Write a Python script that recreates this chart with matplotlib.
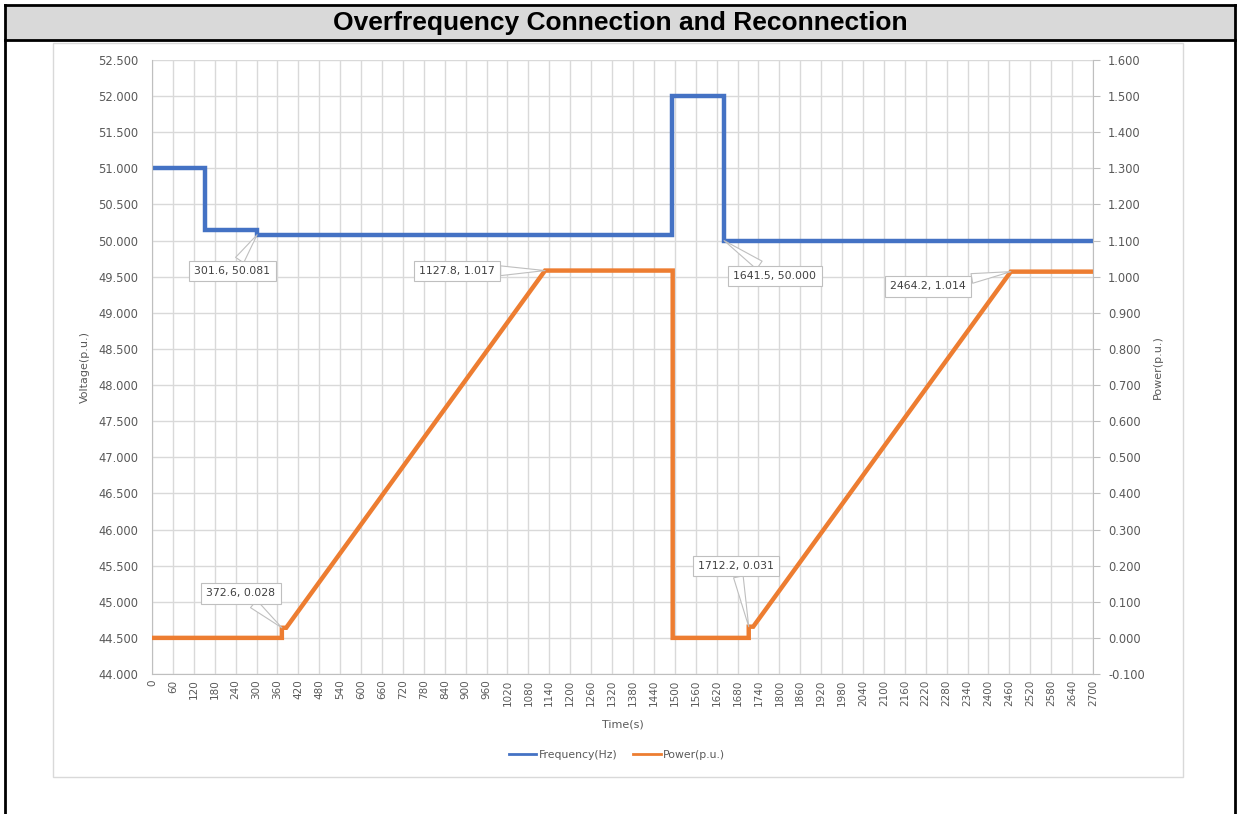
import matplotlib.pyplot as plt
from matplotlib.patches import Rectangle
from matplotlib.lines import Line2D

# frequency trace (Hz) and power trace (p.u.) against time (s)
t_freq = [0, 153, 153, 301.6, 301.6, 1493, 1493, 1641.5, 1641.5, 2700]
freq = [51.0, 51.0, 50.14, 50.14, 50.081, 50.081, 52.0, 52.0, 50.0, 50.0]

t_pow = [0, 372.6, 372.6, 385, 1127.8, 1494, 1494, 1712.2, 1712.2, 1725, 2464.2, 2700]
power = [0, 0, 0.028, 0.028, 1.017, 1.017, 0, 0, 0.031, 0.031, 1.014, 1.014]

# callouts: (x, y, text x, text y)
freq_marks = [(301.6, 50.081, 230, 49.58), (1641.5, 50.000, 1787, 49.51)]
pow_marks = [(1127.8, 1.017, 875, 1.016), (2464.2, 1.014, 2227, 0.974),
             (372.6, 0.028, 255, 0.124), (1712.2, 0.031, 1676, 0.199)]

W, H = 1239, 814
fig = plt.figure(figsize=(W / 100, H / 100), dpi=100)
plt.rcParams['font.family'] = ['DejaVu Sans']

def fx(px):
    return px / W

def fy(py):
    return 1 - py / H

# table frame with a grey title row
fig.patches.append(Rectangle((fx(5), fy(40)), fx(1230), 35 / H, transform=fig.transFigure,
                             facecolor='#d9d9d9', edgecolor='none', zorder=0))
for xs, ys in [([5, 1235], [5, 5]), ([5, 1235], [40, 40]), ([5, 5], [5, 814]), ([1235, 1235], [5, 814])]:
    fig.add_artist(Line2D([fx(v) for v in xs], [fy(v) for v in ys], color='black', lw=2))
fig.text(fx(620), fy(23), 'Overfrequency Connection and Reconnection', ha='center', va='center',
         fontsize=19, fontweight='bold', family='Liberation Sans')

# chart area border
fig.patches.append(Rectangle((fx(53), fy(777)), fx(1130), 734 / H, transform=fig.transFigure,
                             facecolor='none', edgecolor='#d9d9d9', lw=1))

ax = fig.add_axes([fx(152), fy(674), 941 / W, 614 / H])
ax2 = ax.twinx()

blue = '#4472c4'
orange = '#ed7d31'
grey = '#595959'

ax.plot(t_freq, freq, color=blue, lw=3.2, label='Frequency(Hz)', solid_joinstyle='miter')
ax2.plot(t_pow, power, color=orange, lw=3.2, label='Power(p.u.)', solid_joinstyle='miter')

ax.set_xlim(0, 2700)
ax.set_ylim(44, 52.5)
ax2.set_ylim(-0.1, 1.6)
ax.set_xticks(range(0, 2701, 60))
ax.set_yticks([44 + 0.5 * i for i in range(18)])
ax2.set_yticks([-0.1 + 0.1 * i for i in range(18)])
ax.set_yticklabels([f'{44 + 0.5 * i:.3f}' for i in range(18)])
ax2.set_yticklabels([f'{-0.1 + 0.1 * i:.3f}' for i in range(18)])
ax.tick_params(axis='x', labelrotation=90, labelsize=7.5, colors=grey, length=0, pad=4)
ax.tick_params(axis='y', labelsize=8.3, colors=grey, length=0, pad=10)
ax2.tick_params(axis='y', labelsize=8.3, colors=grey, length=5, color='#bfbfbf', pad=6)

ax.grid(True, color='#d9d9d9', lw=1)
ax.set_axisbelow(True)
for a in (ax, ax2):
    for s in a.spines.values():
        s.set_visible(False)
    a.set_facecolor('none')
ax.spines['bottom'].set_visible(True)
ax.spines['bottom'].set_color('#bfbfbf')
ax.spines['left'].set_visible(True)
ax.spines['left'].set_color('#bfbfbf')
ax2.spines['right'].set_visible(True)
ax2.spines['right'].set_color('#bfbfbf')

ax.set_ylabel('Voltage(p.u.)', fontsize=8, color=grey, labelpad=6)
ax2.set_ylabel('Power(p.u.)', fontsize=8, color=grey, labelpad=6)
ax.set_xlabel('Time(s)', fontsize=8, color=grey, labelpad=10)

box = dict(boxstyle='square,pad=0.5', fc='white', ec='#bfbfbf', lw=0.8)
arrow = dict(arrowstyle='wedge,tail_width=0.9,shrink_factor=0.5', fc='white', ec='#bfbfbf', lw=0.8,
             shrinkA=0, shrinkB=0)
for a, marks in ((ax, freq_marks), (ax2, pow_marks)):
    for x, y, tx, ty in marks:
        txt = f'{x:.1f}, {y:.3f}'
        a.annotate(txt, xy=(x, y), xytext=(tx, ty), ha='center', va='center',
                   fontsize=7.8, color='#404040', bbox=box, arrowprops=arrow, zorder=5)

handles = [Line2D([], [], color=blue, lw=2), Line2D([], [], color=orange, lw=2)]
fig.legend(handles, ['Frequency(Hz)', 'Power(p.u.)'], loc='center', bbox_to_anchor=(fx(617), fy(755)),
           ncol=2, frameon=False, fontsize=7.8, labelcolor=grey, handlelength=2.5,
           handletextpad=0.2, columnspacing=1.5)

fig.savefig('out.png', dpi=100)
